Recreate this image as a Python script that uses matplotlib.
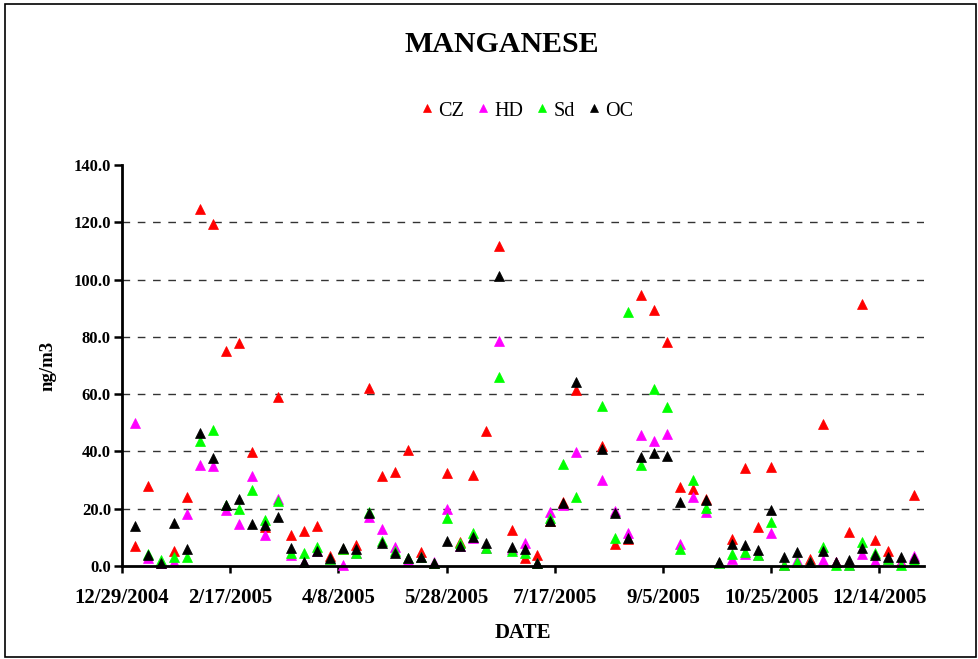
import numpy as np
import pandas as pd
import matplotlib
matplotlib.use("Agg")
import matplotlib.pyplot as plt
from matplotlib.patches import Rectangle

nan = np.nan

# ---- data ----
sample_start = "2005-01-04"   # 1-in-6 day sampling schedule
n_samples = 61
dates = pd.date_range(sample_start, periods=n_samples, freq="6D")

cz = [7.0, 28.0, 1.2, 5.2, 24.2, 124.5, 119.4, 75.2, 78.0, 39.9,
      13.5, 59.1, 10.8, 12.3, 14.1, 3.5, 6.0, 7.3, 62.3, 31.4,
      32.9, 40.5, 4.8, 1.2, 32.4, 8.5, 31.8, 47.1, 111.7, 12.6,
      2.9, 3.8, 15.8, 22.4, 61.4, nan, 41.9, 7.6, 9.5, 94.6,
      89.4, 78.1, 27.7, 26.9, 23.5, 1.2, 9.3, 34.1, 13.7, 34.7,
      0.5, 1.5, 2.3, 49.5, 1.4, 11.8, 91.4, 9.1, 5.2, 1.4,
      24.8]
hd = [50.0, 2.7, 1.2, 1.5, 18.2, 35.3, 34.9, 19.6, 14.7, 31.4,
      10.8, 23.3, 4.0, 1.5, 5.2, 2.5, 0.3, 4.5, 17.2, 12.8,
      6.6, 2.0, 3.0, 1.4, 19.9, 7.0, 9.9, 6.2, 78.6, 5.8,
      8.1, 0.9, 19.0, 21.2, 39.9, nan, 30.0, 19.1, 11.6, 45.7,
      43.8, 46.1, 7.6, 24.2, 18.9, 1.2, 2.6, 4.1, 3.7, 11.4,
      0.5, 2.0, 1.4, 2.0, 1.4, 0.2, 4.1, 1.8, 2.6, 1.4,
      3.6]
sd = [nan, 4.3, 2.0, 3.3, 3.3, 43.6, 47.5, 21.3, 19.8, 26.5,
      16.1, 22.6, 4.6, 4.4, 6.8, 2.3, 6.0, 4.5, 19.0, 8.8,
      5.4, 2.7, 3.0, 1.2, 16.6, 7.9, 11.6, 6.2, 66.1, 5.1,
      4.5, 0.9, 16.9, 35.6, 24.2, nan, 56.0, 9.8, 88.8, 35.3,
      61.8, 55.6, 5.8, 30.0, 20.4, 1.2, 4.1, 4.9, 3.7, 15.3,
      0.5, 1.4, 1.4, 6.6, 0.3, 0.2, 8.5, 4.6, 2.6, 0.3,
      2.2]
oc = [14.1, 3.8, 1.2, 15.1, 6.1, 46.6, 37.6, 21.3, 23.3, 14.7,
      14.3, 17.0, 6.2, 1.5, 5.2, 2.7, 6.2, 5.8, 18.6, 8.1,
      4.4, 2.7, 3.0, 1.2, 8.8, 7.0, 10.2, 8.1, 101.4, 6.5,
      5.8, 0.9, 15.8, 21.9, 64.1, nan, 40.8, 18.5, 9.7, 37.9,
      39.6, 38.4, 22.5, nan, 23.0, 1.5, 7.8, 7.5, 5.5, 19.6,
      3.0, 4.8, 1.4, 5.2, 1.4, 2.2, 6.2, 3.8, 3.3, 3.3,
      2.9]

series_names = ["CZ", "HD", "Sd", "OC"]
series_values = [cz, hd, sd, oc]
series_colors = ["#FF0000", "#FF00FF", "#00FF00", "#000000"]

x_tick_labels = ["12/29/2004", "2/17/2005", "4/8/2005", "5/28/2005",
                 "7/17/2005", "9/5/2005", "10/25/2005", "12/14/2005"]
y_ticks = [0, 20, 40, 60, 80, 100, 120, 140]

# ---- figure ----
W, H = 979, 659
fig = plt.figure(figsize=(W / 100, H / 100), dpi=100)
plt.rcParams["font.family"] = ["Liberation Serif", "DejaVu Serif"]

ax = fig.add_axes([122 / W, 1 - 566 / H, (924 - 122) / W, (566 - 165) / H])

for name, vals, col in zip(series_names, series_values, series_colors):
    ax.plot(dates, vals, linestyle="none", marker="^", markersize=7.5,
            color=col, markeredgecolor=col, markeredgewidth=0.5, label=name,
            clip_on=False)

tick_pos = pd.to_datetime(x_tick_labels, format="%m/%d/%Y")
ax.set_xticks(tick_pos)
ax.set_xticklabels(x_tick_labels)
ax.set_xlim(tick_pos[0], tick_pos[0] + pd.Timedelta(days=370.6))

ax.set_ylim(0, 140)
ax.set_yticks(y_ticks)
ax.set_yticklabels([f"{v:.1f}" for v in y_ticks])

for lab in ax.get_xticklabels():
    lab.set_fontweight("bold")
    lab.set_fontsize(15)
for lab in ax.get_yticklabels():
    lab.set_fontweight("bold")
    lab.set_fontsize(12)

ax.tick_params(axis="x", direction="out", length=5, width=1.8, pad=11)
ax.tick_params(axis="y", direction="out", length=6, width=1.8, pad=2)

for s in ["top", "right"]:
    ax.spines[s].set_visible(False)
for s in ["left", "bottom"]:
    ax.spines[s].set_linewidth(2.0)

ax.yaxis.grid(True, linestyle=(0, (5.5, 5.5)), color="#333333", linewidth=1.0)
gl = ax.get_ygridlines()
gl[0].set_visible(False)
gl[-1].set_visible(False)
ax.set_axisbelow(True)

ax.set_xlabel("DATE", fontsize=15, fontweight="bold", labelpad=11)
ax.set_ylabel("ng/m3", fontsize=13.5, fontweight="bold", labelpad=12)

fig.text(502 / W, 1 - 45 / H, "MANGANESE", ha="center", va="center",
         fontsize=21.5, fontweight="bold")

leg = fig.legend(loc="center", bbox_to_anchor=(527 / W, 1 - 111 / H), ncol=4,
                 frameon=False, fontsize=14.5, markerscale=0.75,
                 handlelength=0.6, handletextpad=0.25, columnspacing=0.65)

fig.patches.append(Rectangle((5 / W, 2 / H), 971 / W, (H - 6) / H,
                             transform=fig.transFigure, fill=False,
                             edgecolor="black", linewidth=1.2))

fig.savefig("out.png", dpi=100)
